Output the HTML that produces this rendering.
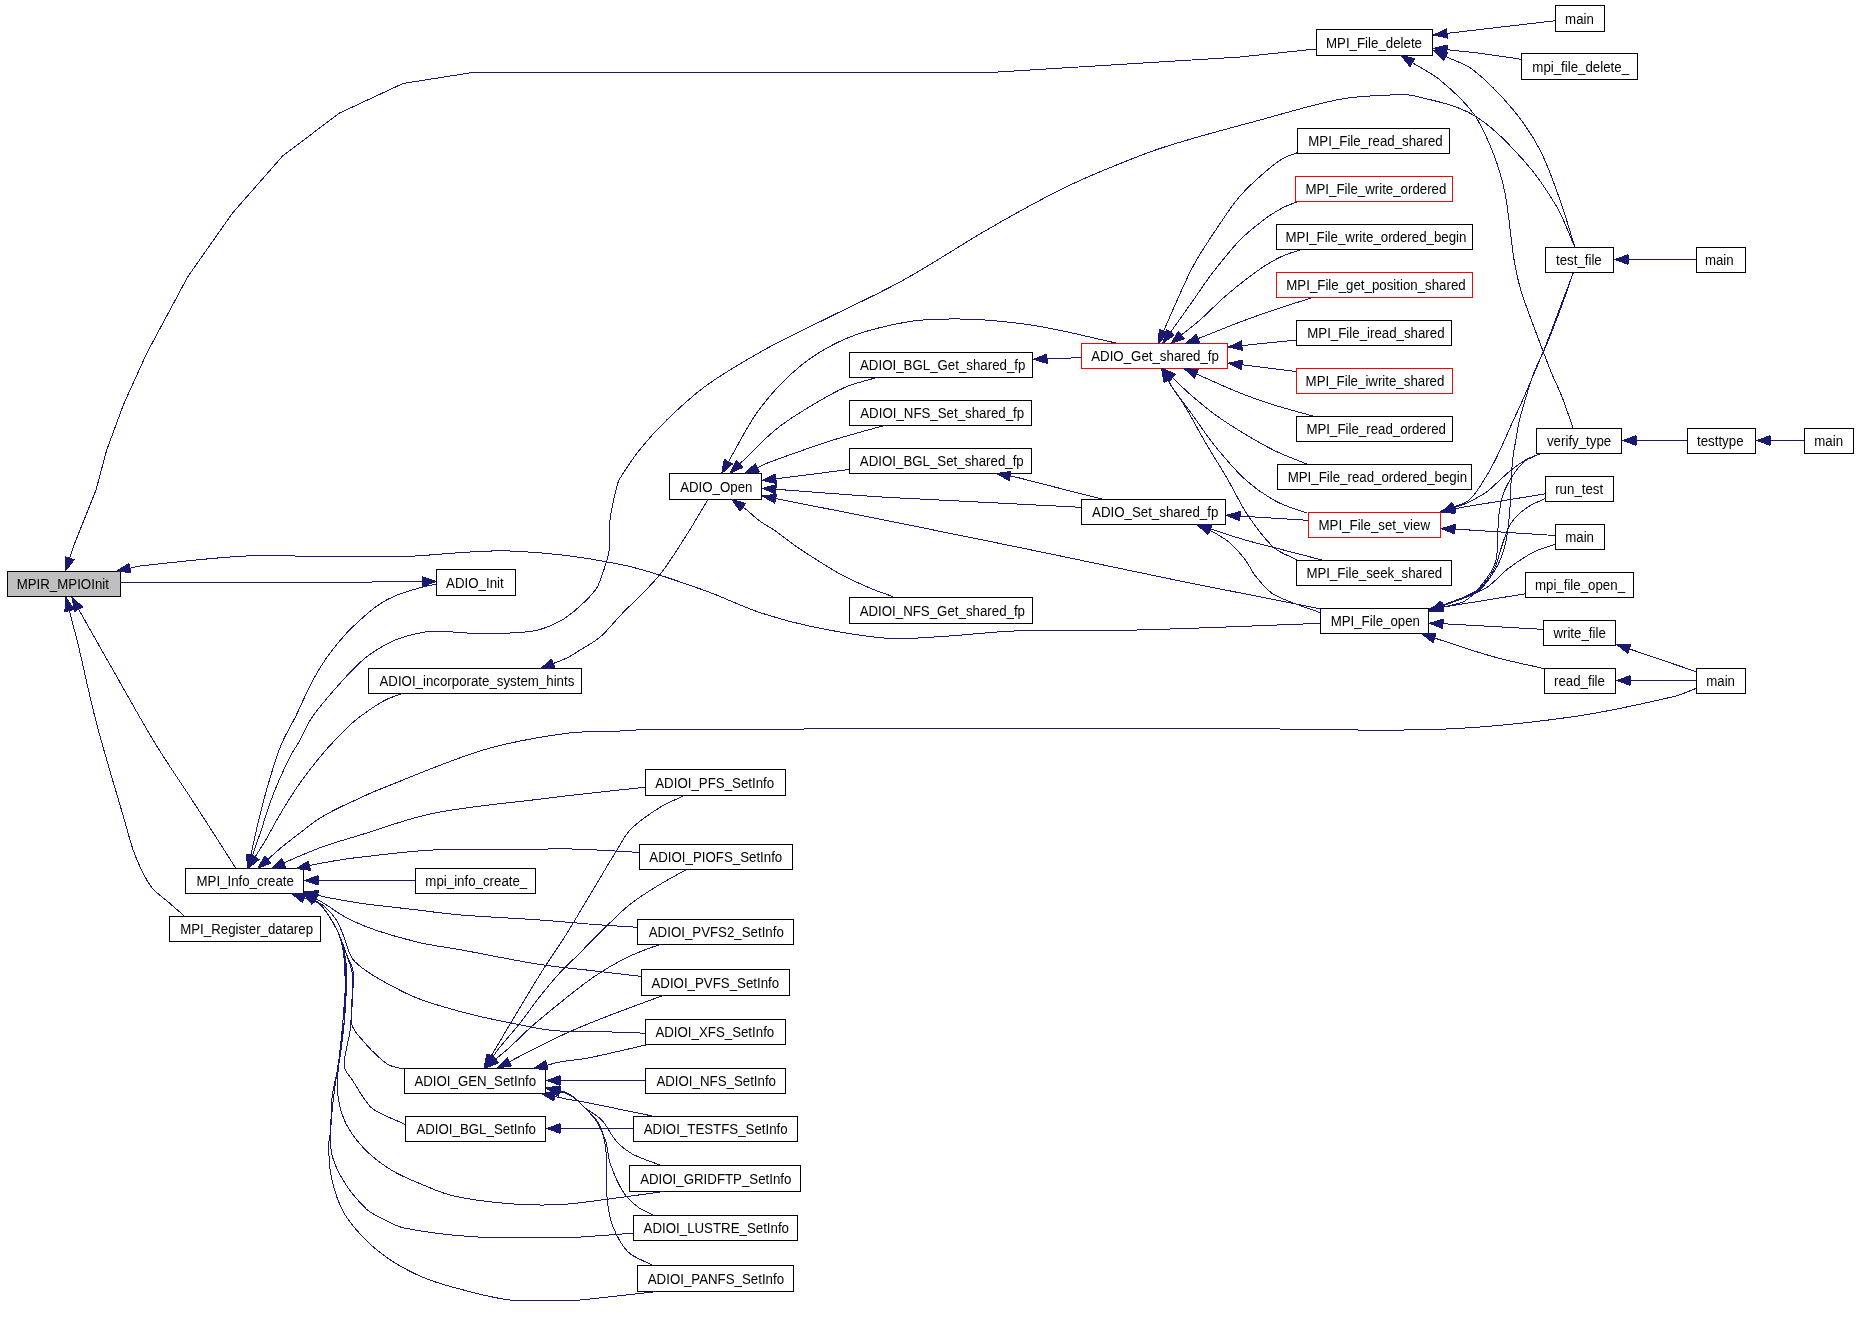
<!DOCTYPE html><html><head><meta charset="utf-8"><style>html,body{margin:0;padding:0;background:#fff;width:1859px;height:1320px;overflow:hidden}svg{display:block}text{font-family:"Liberation Sans",sans-serif;font-size:13.8px;fill:#000}</style></head><body>
<svg width="1859" height="1320" viewBox="0 0 1859 1320">
<rect x="7.5" y="571.5" width="113" height="25" fill="#bfbfbf" stroke="black" stroke-width="1" shape-rendering="crispEdges"/>
<rect x="1555.5" y="5.5" width="49" height="26" fill="white" stroke="black" stroke-width="1" shape-rendering="crispEdges"/>
<rect x="1316.5" y="29.5" width="116" height="26" fill="white" stroke="black" stroke-width="1" shape-rendering="crispEdges"/>
<rect x="1521.5" y="53.5" width="116" height="26" fill="white" stroke="black" stroke-width="1" shape-rendering="crispEdges"/>
<rect x="1297.5" y="128.5" width="152" height="25" fill="white" stroke="black" stroke-width="1" shape-rendering="crispEdges"/>
<rect x="1295.5" y="176.5" width="157" height="25" fill="white" stroke="red" stroke-width="1" shape-rendering="crispEdges"/>
<rect x="1276.5" y="224.5" width="196" height="25" fill="white" stroke="black" stroke-width="1" shape-rendering="crispEdges"/>
<rect x="1276.5" y="272.5" width="196" height="25" fill="white" stroke="red" stroke-width="1" shape-rendering="crispEdges"/>
<rect x="1296.5" y="320.5" width="155" height="25" fill="white" stroke="black" stroke-width="1" shape-rendering="crispEdges"/>
<rect x="1296.5" y="368.5" width="156" height="25" fill="white" stroke="red" stroke-width="1" shape-rendering="crispEdges"/>
<rect x="1296.5" y="416.5" width="156" height="25" fill="white" stroke="black" stroke-width="1" shape-rendering="crispEdges"/>
<rect x="1277.5" y="464.5" width="194" height="25" fill="white" stroke="black" stroke-width="1" shape-rendering="crispEdges"/>
<rect x="1308.5" y="512.5" width="132" height="25" fill="white" stroke="red" stroke-width="1" shape-rendering="crispEdges"/>
<rect x="1296.5" y="560.5" width="155" height="25" fill="white" stroke="black" stroke-width="1" shape-rendering="crispEdges"/>
<rect x="1320.5" y="608.5" width="108" height="25" fill="white" stroke="black" stroke-width="1" shape-rendering="crispEdges"/>
<rect x="1545.5" y="247.5" width="68" height="25" fill="white" stroke="black" stroke-width="1" shape-rendering="crispEdges"/>
<rect x="1696.5" y="247.5" width="49" height="25" fill="white" stroke="black" stroke-width="1" shape-rendering="crispEdges"/>
<rect x="1536.5" y="428.5" width="85" height="25" fill="white" stroke="black" stroke-width="1" shape-rendering="crispEdges"/>
<rect x="1687.5" y="428.5" width="68" height="25" fill="white" stroke="black" stroke-width="1" shape-rendering="crispEdges"/>
<rect x="1804.5" y="428.5" width="49" height="25" fill="white" stroke="black" stroke-width="1" shape-rendering="crispEdges"/>
<rect x="1545.5" y="476.5" width="68" height="25" fill="white" stroke="black" stroke-width="1" shape-rendering="crispEdges"/>
<rect x="1555.5" y="524.5" width="49" height="25" fill="white" stroke="black" stroke-width="1" shape-rendering="crispEdges"/>
<rect x="1525.5" y="572.5" width="108" height="25" fill="white" stroke="black" stroke-width="1" shape-rendering="crispEdges"/>
<rect x="1543.5" y="620.5" width="72" height="25" fill="white" stroke="black" stroke-width="1" shape-rendering="crispEdges"/>
<rect x="1544.5" y="668.5" width="71" height="25" fill="white" stroke="black" stroke-width="1" shape-rendering="crispEdges"/>
<rect x="1696.5" y="668.5" width="49" height="25" fill="white" stroke="black" stroke-width="1" shape-rendering="crispEdges"/>
<rect x="1081.5" y="343.5" width="146" height="25" fill="white" stroke="red" stroke-width="1" shape-rendering="crispEdges"/>
<rect x="849.5" y="352.5" width="183" height="25" fill="white" stroke="black" stroke-width="1" shape-rendering="crispEdges"/>
<rect x="849.5" y="400.5" width="182" height="25" fill="white" stroke="black" stroke-width="1" shape-rendering="crispEdges"/>
<rect x="849.5" y="448.5" width="182" height="25" fill="white" stroke="black" stroke-width="1" shape-rendering="crispEdges"/>
<rect x="1081.5" y="499.5" width="144" height="25" fill="white" stroke="black" stroke-width="1" shape-rendering="crispEdges"/>
<rect x="849.5" y="597.5" width="183" height="26" fill="white" stroke="black" stroke-width="1" shape-rendering="crispEdges"/>
<rect x="669.5" y="473.5" width="92" height="26" fill="white" stroke="black" stroke-width="1" shape-rendering="crispEdges"/>
<rect x="436.5" y="569.5" width="79" height="26" fill="white" stroke="black" stroke-width="1" shape-rendering="crispEdges"/>
<rect x="368.5" y="668.5" width="213" height="25" fill="white" stroke="black" stroke-width="1" shape-rendering="crispEdges"/>
<rect x="185.5" y="868.5" width="118" height="25" fill="white" stroke="black" stroke-width="1" shape-rendering="crispEdges"/>
<rect x="169.5" y="916.5" width="151" height="25" fill="white" stroke="black" stroke-width="1" shape-rendering="crispEdges"/>
<rect x="415.5" y="868.5" width="120" height="25" fill="white" stroke="black" stroke-width="1" shape-rendering="crispEdges"/>
<rect x="645.5" y="769.5" width="140" height="26" fill="white" stroke="black" stroke-width="1" shape-rendering="crispEdges"/>
<rect x="639.5" y="844.5" width="153" height="25" fill="white" stroke="black" stroke-width="1" shape-rendering="crispEdges"/>
<rect x="637.5" y="919.5" width="156" height="25" fill="white" stroke="black" stroke-width="1" shape-rendering="crispEdges"/>
<rect x="641.5" y="969.5" width="148" height="26" fill="white" stroke="black" stroke-width="1" shape-rendering="crispEdges"/>
<rect x="645.5" y="1019.5" width="140" height="25" fill="white" stroke="black" stroke-width="1" shape-rendering="crispEdges"/>
<rect x="404.5" y="1068.5" width="141" height="25" fill="white" stroke="black" stroke-width="1" shape-rendering="crispEdges"/>
<rect x="645.5" y="1068.5" width="140" height="25" fill="white" stroke="black" stroke-width="1" shape-rendering="crispEdges"/>
<rect x="405.5" y="1116.5" width="140" height="25" fill="white" stroke="black" stroke-width="1" shape-rendering="crispEdges"/>
<rect x="633.5" y="1116.5" width="164" height="25" fill="white" stroke="black" stroke-width="1" shape-rendering="crispEdges"/>
<rect x="629.5" y="1165.5" width="171" height="26" fill="white" stroke="black" stroke-width="1" shape-rendering="crispEdges"/>
<rect x="633.5" y="1215.5" width="164" height="25" fill="white" stroke="black" stroke-width="1" shape-rendering="crispEdges"/>
<rect x="637.5" y="1265.5" width="156" height="26" fill="white" stroke="black" stroke-width="1" shape-rendering="crispEdges"/>
<g style="filter:grayscale(1)">
<text x="62.8" y="589" text-anchor="middle" textLength="92.24" lengthAdjust="spacingAndGlyphs">MPIR_MPIOInit</text>
<text x="1579.5" y="24" text-anchor="middle" textLength="28.78" lengthAdjust="spacingAndGlyphs">main</text>
<text x="1374" y="48" text-anchor="middle" textLength="95.96" lengthAdjust="spacingAndGlyphs">MPI_File_delete</text>
<text x="1580.7" y="72" text-anchor="middle" textLength="96.72" lengthAdjust="spacingAndGlyphs">mpi_file_delete_</text>
<text x="1375.5" y="146" text-anchor="middle" textLength="134.35" lengthAdjust="spacingAndGlyphs">MPI_File_read_shared</text>
<text x="1375.9" y="194" text-anchor="middle" textLength="140.98" lengthAdjust="spacingAndGlyphs">MPI_File_write_ordered</text>
<text x="1376" y="242" text-anchor="middle" textLength="180.86" lengthAdjust="spacingAndGlyphs">MPI_File_write_ordered_begin</text>
<text x="1376" y="290" text-anchor="middle" textLength="179.39" lengthAdjust="spacingAndGlyphs">MPI_File_get_position_shared</text>
<text x="1375.9" y="338" text-anchor="middle" textLength="137.30" lengthAdjust="spacingAndGlyphs">MPI_File_iread_shared</text>
<text x="1375" y="386" text-anchor="middle" textLength="138.76" lengthAdjust="spacingAndGlyphs">MPI_File_iwrite_shared</text>
<text x="1376.2" y="434" text-anchor="middle" textLength="139.52" lengthAdjust="spacingAndGlyphs">MPI_File_read_ordered</text>
<text x="1377.4" y="482" text-anchor="middle" textLength="179.40" lengthAdjust="spacingAndGlyphs">MPI_File_read_ordered_begin</text>
<text x="1374.3" y="530" text-anchor="middle" textLength="111.45" lengthAdjust="spacingAndGlyphs">MPI_File_set_view</text>
<text x="1374.3" y="578" text-anchor="middle" textLength="135.82" lengthAdjust="spacingAndGlyphs">MPI_File_seek_shared</text>
<text x="1375.3" y="626" text-anchor="middle" textLength="89.32" lengthAdjust="spacingAndGlyphs">MPI_File_open</text>
<text x="1578.9" y="265" text-anchor="middle" textLength="45.77" lengthAdjust="spacingAndGlyphs">test_file</text>
<text x="1719.3" y="265" text-anchor="middle" textLength="28.78" lengthAdjust="spacingAndGlyphs">main</text>
<text x="1579.1" y="446" text-anchor="middle" textLength="64.22" lengthAdjust="spacingAndGlyphs">verify_type</text>
<text x="1720.3" y="446" text-anchor="middle" textLength="46.51" lengthAdjust="spacingAndGlyphs">testtype</text>
<text x="1828.7" y="446" text-anchor="middle" textLength="28.78" lengthAdjust="spacingAndGlyphs">main</text>
<text x="1579.2" y="494" text-anchor="middle" textLength="47.98" lengthAdjust="spacingAndGlyphs">run_test</text>
<text x="1579.6" y="542" text-anchor="middle" textLength="28.78" lengthAdjust="spacingAndGlyphs">main</text>
<text x="1580" y="590" text-anchor="middle" textLength="90.08" lengthAdjust="spacingAndGlyphs">mpi_file_open_</text>
<text x="1579.6" y="638" text-anchor="middle" textLength="52.40" lengthAdjust="spacingAndGlyphs">write_file</text>
<text x="1579.5" y="686" text-anchor="middle" textLength="50.94" lengthAdjust="spacingAndGlyphs">read_file</text>
<text x="1720.6" y="686" text-anchor="middle" textLength="28.78" lengthAdjust="spacingAndGlyphs">main</text>
<text x="1155.1" y="361" text-anchor="middle" textLength="127.71" lengthAdjust="spacingAndGlyphs">ADIO_Get_shared_fp</text>
<text x="942.7" y="370" text-anchor="middle" textLength="165.36" lengthAdjust="spacingAndGlyphs">ADIOI_BGL_Get_shared_fp</text>
<text x="942.2" y="418" text-anchor="middle" textLength="163.87" lengthAdjust="spacingAndGlyphs">ADIOI_NFS_Set_shared_fp</text>
<text x="941.8" y="466" text-anchor="middle" textLength="163.89" lengthAdjust="spacingAndGlyphs">ADIOI_BGL_Set_shared_fp</text>
<text x="1155.2" y="517" text-anchor="middle" textLength="126.24" lengthAdjust="spacingAndGlyphs">ADIO_Set_shared_fp</text>
<text x="942.3" y="616" text-anchor="middle" textLength="165.35" lengthAdjust="spacingAndGlyphs">ADIOI_NFS_Get_shared_fp</text>
<text x="716.3" y="492" text-anchor="middle" textLength="72.34" lengthAdjust="spacingAndGlyphs">ADIO_Open</text>
<text x="474.9" y="588" text-anchor="middle" textLength="57.57" lengthAdjust="spacingAndGlyphs">ADIO_Init</text>
<text x="476.9" y="686" text-anchor="middle" textLength="194.86" lengthAdjust="spacingAndGlyphs">ADIOI_incorporate_system_hints</text>
<text x="245.2" y="886" text-anchor="middle" textLength="97.44" lengthAdjust="spacingAndGlyphs">MPI_Info_create</text>
<text x="246.6" y="934" text-anchor="middle" textLength="132.87" lengthAdjust="spacingAndGlyphs">MPI_Register_datarep</text>
<text x="476.3" y="886" text-anchor="middle" textLength="101.88" lengthAdjust="spacingAndGlyphs">mpi_info_create_</text>
<text x="714.7" y="788" text-anchor="middle" textLength="118.84" lengthAdjust="spacingAndGlyphs">ADIOI_PFS_SetInfo</text>
<text x="715.8" y="862" text-anchor="middle" textLength="132.86" lengthAdjust="spacingAndGlyphs">ADIOI_PIOFS_SetInfo</text>
<text x="716.3" y="937" text-anchor="middle" textLength="135.08" lengthAdjust="spacingAndGlyphs">ADIOI_PVFS2_SetInfo</text>
<text x="715.3" y="988" text-anchor="middle" textLength="127.70" lengthAdjust="spacingAndGlyphs">ADIOI_PVFS_SetInfo</text>
<text x="714.8" y="1037" text-anchor="middle" textLength="118.84" lengthAdjust="spacingAndGlyphs">ADIOI_XFS_SetInfo</text>
<text x="475.3" y="1086" text-anchor="middle" textLength="121.79" lengthAdjust="spacingAndGlyphs">ADIOI_GEN_SetInfo</text>
<text x="716.2" y="1086" text-anchor="middle" textLength="119.57" lengthAdjust="spacingAndGlyphs">ADIOI_NFS_SetInfo</text>
<text x="476.2" y="1134" text-anchor="middle" textLength="119.59" lengthAdjust="spacingAndGlyphs">ADIOI_BGL_SetInfo</text>
<text x="715.7" y="1134" text-anchor="middle" textLength="143.92" lengthAdjust="spacingAndGlyphs">ADIOI_TESTFS_SetInfo</text>
<text x="715.8" y="1184" text-anchor="middle" textLength="151.29" lengthAdjust="spacingAndGlyphs">ADIOI_GRIDFTP_SetInfo</text>
<text x="716.3" y="1233" text-anchor="middle" textLength="145.41" lengthAdjust="spacingAndGlyphs">ADIOI_LUSTRE_SetInfo</text>
<text x="715.9" y="1284" text-anchor="middle" textLength="136.30" lengthAdjust="spacingAndGlyphs">ADIOI_PANFS_SetInfo</text>
</g>
<path d="M1316 49 L1240 57 L990 72.5 L472.7 72.5 L403 83.5 L339.4 113.1 L282.8 155.8 L232.3 213.3 L187.8 276.7 L146.7 353.3 L123.3 405 L106.7 450 L96 490 L74 545 L69.7 558.2 M1320.2 623.3 C1281 624.8 1241.9 626.5 1202.7 627.9 C1168.5 629.1 1134.2 630.3 1100 630.9 C1072 631.3 1044 629.9 1016 630.9 C991.6 631.8 967.3 635 942.9 636.4 C924.6 637.5 906.2 639.6 888 638.3 C863.5 636.6 839 632.1 814.9 627.3 C796.4 623.6 777.9 618.6 760 612.6 C740.7 606.2 722.5 596.6 703.3 590 C675.9 580.5 648.4 570 620 564.3 C583.9 557 546.8 552.3 510 551 C473.4 549.7 436.7 555.7 400 556.7 C370 557.5 339.9 556.3 309.8 556.2 C287.1 556.1 264.3 554.9 241.7 556.2 C207.7 558.2 173.8 562.4 140 566 C136.6 566.4 133.3 567.4 129.9 568.2 M235.7 868 C222 846.6 208.4 825.1 194.6 803.8 C181.8 784 168.2 764.7 155.9 744.6 C142.4 722.6 130.1 700 117.3 677.6 C104.3 654.9 91.5 632 78.6 609.3 M184.3 916 C179.5 911.8 174.7 907.7 170 903.5 C163.6 897.8 155.7 893.1 150.8 886.3 C144.1 877 139.3 865.8 135 855 C130.7 844.4 128.2 833 125 822 C115.5 789.4 105.4 756.9 96.7 724 C89.9 698.4 84.8 672.4 78.6 646.7 C75.7 634.6 72.4 622.6 69.3 610.6 M120.5 583 C153.7 582.9 186.8 582.8 220 582.7 C264.4 582.6 308.9 582.6 353.3 582.3 C368.9 582.2 384.4 581.7 400 581.5 C407.5 581.4 415 581.5 422.5 581.5 M436.2 584.2 C432.3 585 428.3 585.4 424.5 586.5 C414.9 589.2 405.1 591.8 395.8 595.6 C389.4 598.2 383.2 601.6 377.6 605.5 C370.6 610.4 364.3 616.3 357.9 622.1 C353.1 626.4 348.4 630.9 344.2 635.8 C337.8 643.1 331.6 650.5 326.1 658.5 C320.5 666.7 315.5 675.4 310.9 684.2 C305.4 694.6 301 705.6 295.8 716.1 C291.8 724.2 287.2 731.9 283.3 740 C281 744.8 279.1 749.8 277.4 754.8 C274.6 762.9 272.1 771.2 269.6 779.4 C267.2 787.6 264.9 795.8 262.7 804 C260.6 812.2 258.6 820.4 256.7 828.7 C254.6 837.6 252.8 846.4 250.8 855.3 M1575 247.5 C1568.9 233.9 1564.2 219.5 1556.7 206.7 C1547 190.3 1536.1 174.1 1523.3 160 C1508.3 143.5 1492.2 126.1 1473.3 115 C1455.6 104.6 1433.6 100.6 1413.3 95.7 C1405.8 93.9 1397.7 94.6 1390 95 C1373.3 95.8 1356.4 96.2 1340 99.3 C1313 104.5 1286.6 112.8 1260 120 C1227.8 128.8 1195.3 137 1163.6 147.3 C1142 154.3 1121 163.1 1100 171.8 C1084.2 178.4 1068.5 185.5 1053.3 193.3 C1030.8 204.9 1008.6 217.3 986.7 230 C958.7 246.2 931.9 264.4 903.6 280 C879.1 293.6 853.4 305.1 828.3 317.6 C808.6 327.5 788.4 336.5 769.1 347.2 C748 358.9 726.8 371 707.2 384.9 C692.8 395.2 679.7 407.5 666.9 419.8 C657.3 429 648.3 439 640 449.4 C632.7 458.5 626.2 468.4 620 478.3 C618.4 480.8 617.4 483.8 616.7 486.7 C614.1 497.7 611.3 508.8 610 520 C608.8 529.9 610.9 540.2 609.3 550 C607.6 560.6 603.6 570.8 600 581 C598.9 584.3 597.4 587.6 595.2 590.3 C590.5 596.2 585.1 601.7 579.4 606.7 C573.4 612 567.1 617.5 560 621.2 C551.7 625.6 542.6 629.5 533.3 631 C515.9 633.7 497.8 633.4 480 633.8 C474.1 633.9 468.3 633 462.4 632.7 C453.3 632.2 444.2 631 435.2 631.2 C429.1 631.3 422.9 632.1 417 633.5 C408.8 635.4 400.4 637.6 392.7 641.1 C384.2 645 376.1 650 368.5 655.5 C362.4 659.9 357 665.2 351.8 670.6 C342.9 679.8 334.4 689.6 326.1 699.4 C320.8 705.7 315.4 712.1 310.9 719.1 C306.7 725.7 303.9 733.1 300.1 740 C297.3 745 293.9 749.7 291.2 754.8 C287 762.8 283.1 771.1 279.4 779.4 C275.9 787.5 272.6 795.7 269.6 804 C266.7 812.1 264.4 820.5 261.7 828.7 C258.7 837.7 255.4 846.7 252.3 855.7 M708 499.3 C703.9 506.2 699.9 513.1 695.8 520 C693 524.7 690.3 529.4 687.3 533.9 C678.2 547.8 669.9 562.4 659.4 575.2 C647.7 589.5 633.5 601.8 620.6 615.2 C613.7 622.5 607.6 630.7 600 637.2 C593.9 642.4 586.4 646.1 579.5 650.4 C575.3 653.1 571.1 655.9 566.6 658.1 C562.3 660.2 557.7 661.7 553.2 663.5 M403.3 693.3 C397.8 695.3 392 696.9 386.7 699.4 C381.4 701.9 376.4 705.2 371.5 708.5 C365.2 712.8 359 717.2 353.3 722.1 C346.9 727.7 341 733.9 335.1 740 C330.5 744.8 326 749.7 321.8 754.8 C315.7 762.2 309.7 769.7 304 777.4 C298.8 784.4 294 791.8 289.3 799.1 C285.2 805.6 281.2 812.2 277.4 818.8 C273.7 825.3 270.4 832 266.6 838.5 C262.9 844.8 258.9 850.9 255 857 M1696.3 688.3 C1688.6 691.1 1681.2 694.9 1673.3 696.7 C1640.2 704.3 1606.9 712 1573.3 716.7 C1529.2 722.9 1484.6 727.7 1440 729.3 C1373.4 731.7 1306.5 728.7 1239.7 728.7 C1044.2 728.7 848.8 728.6 653.3 729.3 C642.2 729.3 631.1 730.5 620 731 C602.2 731.8 584.3 730.9 566.7 733.3 C538.7 737.2 510.3 741.8 483.3 750 C446 761.3 410.2 777.5 373.8 791.7 C369.1 793.5 364.6 796 360 798.1 C352.8 801.4 345.5 804.5 338.5 808 C331.8 811.4 325.1 814.7 318.8 818.8 C311.9 823.3 305.6 828.6 299.1 833.6 C293.2 838.1 287.2 842.6 281.4 847.4 C276.7 851.3 272.3 855.5 267.8 859.5 M645.1 787.3 C628.2 789.1 611.4 790.8 594.5 792.7 C576.3 794.7 558.1 796.8 540 799.1 C504.4 803.6 468.4 806.3 433.3 813.3 C408.4 818.3 384.4 827.7 360 835.1 C347.9 838.8 335.7 842.2 323.7 846.4 C315.4 849.3 307.3 852.9 299.1 856.3 C294 858.4 288.9 860.8 283.8 863 M639.1 852.4 C618.2 851.3 597.3 849.8 576.4 849.1 C564.3 848.7 552.1 849 540 849.1 C504.4 849.3 468.8 848.4 433.3 850 C408.8 851.1 384.4 854.6 360 857.2 C352.8 858 345.6 859.1 338.5 860.2 C332.3 861.2 326.1 862.2 320 863.4 C316.4 864.1 312.9 864.9 309.4 865.7 M415.1 880.4 C386.7 880.4 358.4 880.4 330 880.4 C326 880.4 322 880.4 318 880.4 M637.3 927.3 C623 926.4 608.8 925.6 594.5 924.5 C576.3 923.1 558.2 921.3 540 920 C513.3 918.1 486.6 917.1 460 914.9 C443.9 913.6 427.9 911.2 411.9 909.3 C394.7 907.3 377.4 905.6 360.2 903.2 C348.4 901.5 336.7 899.2 325 897 C322.5 896.5 320.1 895.7 317.6 895.1 M641.1 976.4 C625.6 974.6 610 972.7 594.5 970.9 C576.3 968.8 558.1 967.3 540 964.5 C513.2 960.3 486.7 954.5 460 949.7 C446.8 947.3 433.5 945.8 420.5 942.8 C406 939.5 391.6 935.5 377.5 930.8 C367.5 927.5 357.6 923.5 348.2 918.7 C340.1 914.6 332.8 908.8 325 904 C322.1 902.2 319.1 900.5 316.2 898.8 M645.2 1033.2 C626.3 1032.5 607.4 1031.7 588.5 1031.2 C579 1031 569.5 1031.5 560 1031 C553.3 1030.7 546.6 1029.9 540 1028.7 C517.2 1024.4 494.3 1020.1 471.8 1014.5 C453.4 1009.9 435 1004.9 417.3 998.2 C404.7 993.4 392.8 986.5 380.9 980 C374.3 976.4 367.9 972.3 362 967.8 C358.2 964.8 354 961.6 351.6 957.5 C347.8 950.8 346.4 942.7 343.4 935.4 C341.2 930 339.2 924.4 336.1 919.6 C333.1 915 329.1 910.7 325 907 C321.9 904.2 317.9 902.5 314.4 900.2 M404.2 1069.1 C399.5 1067.9 394.4 1067.4 390 1065.5 C386.5 1064 383.5 1061.4 380.6 1058.8 C375.3 1054.1 370 1049.1 365.5 1043.6 C360.4 1037.5 353.1 1031.4 351.8 1023.9 C349 1007.7 354.7 989.2 353.3 972.4 C352.7 965.5 348.3 959.3 345.8 952.7 C342.9 945.1 340.8 937.1 337 930 C332.1 920.9 326.9 911 319.8 904.1 C316 900.4 309.4 900.2 304.1 898.2 M405.2 1124.4 C396.8 1120.6 388.2 1117.3 380.1 1113.1 C376.4 1111.2 372.3 1109.3 369.7 1106.1 C363.1 1098.2 357.9 1088.8 352.3 1080 C349.4 1075.6 344.4 1071.4 344.2 1066.4 C343.7 1054.2 349.1 1041.2 350.3 1028.5 C351.9 1010.9 353.6 992.9 352.6 975.5 C352.1 967.7 348.4 960.2 345.8 952.7 C343.2 945 340.8 937.1 337 930 C332.1 920.9 326.9 911 319.8 904.1 C316 900.4 309.4 900.2 304.1 898.2 M663.6 1191.5 C646.6 1193.8 629.7 1196.4 612.7 1198.5 C595.2 1200.7 577.6 1203.7 560 1204.6 C543.1 1205.4 526 1205.1 509.1 1203.7 C490.4 1202.2 471.5 1199.9 453.3 1195.9 C442.5 1193.5 432.2 1188.7 422 1184.5 C411.9 1180.3 401.6 1176.2 392.3 1170.6 C383.6 1165.4 375.2 1159.3 367.9 1152.3 C360.7 1145.4 354 1137.3 348.8 1128.8 C344.6 1121.8 341.6 1113.7 339.7 1105.8 C337.8 1098 337.1 1089.6 337.4 1081.5 C338.1 1062.3 341.2 1043.1 342.7 1023.9 C344 1007.8 345.5 991.6 345.8 975.5 C346 967.9 345.6 960.1 344.2 952.7 C342.7 945 340.5 937 337 930 C332.4 920.8 326.9 911 319.8 904.1 C316 900.4 309.4 900.2 304.1 898.2 M633.3 1233.2 C614.3 1234.6 595.4 1236.1 576.4 1237.3 C570.9 1237.6 565.5 1237.7 560 1237.7 C531.4 1237.6 502.7 1238.6 474.2 1236.8 C450.9 1235.4 427.3 1232.5 404.5 1228.1 C397.1 1226.7 390.3 1222.8 383.6 1219.4 C377.6 1216.4 371 1213.5 366.2 1208.9 C357.7 1200.7 349.8 1191.1 343.6 1181 C338.2 1172.2 333.4 1162.3 331.4 1152.3 C329.3 1141.8 330.8 1130.3 331.4 1119.4 C332.1 1107.7 333.7 1096.1 335.2 1084.5 C338 1063.3 342.3 1042.2 344.2 1020.9 C345.6 1005.9 345.3 990.6 345 975.5 C344.9 967 344.5 958.4 343 950 C341.8 943.2 340.1 936.1 337 930 C332.4 920.8 326.9 911 319.8 904.1 C316 900.4 309.4 900.2 304.1 898.2 M656.4 1291.6 C629.7 1294.5 603.1 1297.9 576.4 1300.3 C571 1300.8 565.5 1300.4 560 1300.4 C543 1300.3 525.8 1302 509.1 1299.9 C490.3 1297.6 471.7 1292.2 453.3 1287.3 C442.7 1284.5 432.1 1281.2 422 1276.9 C411.7 1272.5 401.6 1267.3 392.3 1261.2 C383 1255.1 374 1248.1 366.2 1240.3 C357.8 1231.9 349.3 1222.7 343.6 1212.4 C337.7 1201.8 334.1 1189.5 331.4 1177.6 C329.1 1167.4 328.9 1156.7 328.7 1146.2 C328.6 1140.8 330.2 1135.4 330.6 1130 C331.4 1118.9 330.7 1107.7 332.1 1096.7 C333.7 1084 337.7 1071.5 339.7 1058.8 C342 1043.7 343.9 1028.5 345 1013.3 C346.1 998.2 346.8 983 346.5 967.9 C346.3 961.3 345.1 954.6 343.5 948.2 C341.9 942 340 935.6 337 930 C332.1 920.9 326.9 911 319.8 904.1 C316 900.4 309.4 900.2 304.1 898.2 M684.5 795.5 C676.3 799.4 667.6 802.5 660 807.3 C649.8 813.7 639.3 820.7 630.9 829.1 C624.8 835.2 621 843.5 616.4 850.9 C608.9 862.9 601.8 875.2 594.5 887.3 C585.4 902.4 576.6 917.7 567.3 932.7 C558.5 946.8 548.8 960.4 540 974.5 C529.9 990.6 520.3 1007.1 510.5 1023.4 C503.9 1034.4 497.4 1045.4 490.9 1056.4 M686.4 869.5 C677 874.8 667.4 879.8 658.2 885.5 C648.9 891.2 639.5 896.9 630.9 903.6 C623.1 909.6 616.2 916.7 609.1 923.6 C598 934.3 587.3 945.5 576.4 956.4 C570.9 961.9 565.2 967 560 972.7 C553 980.3 546.4 988.3 540 996.4 C532.9 1005.4 526.4 1015 519.3 1024 C513.1 1031.8 506.3 1039.2 500 1047 C497.4 1050.3 495 1053.8 492.5 1057.1 M660.9 944.5 C657 945.7 652.9 946.7 649.1 948.2 C640.5 951.6 631.8 954.9 623.6 959.1 C613.6 964.3 603.8 970.1 594.5 976.4 C583.8 983.7 573.7 991.9 563.6 1000 C552.7 1008.7 541.9 1017.5 531.4 1026.7 C524 1033.2 517.3 1040.4 510 1047 C505.4 1051.2 500.5 1055.1 495.7 1059.2 M663.6 995.3 C646.6 1001.6 629.6 1007.7 612.7 1014.2 C598.3 1019.8 584 1025.3 569.9 1031.6 C556.4 1037.6 543.2 1044.4 530 1051 C523.1 1054.4 516.3 1058.2 509.5 1061.7 M647.9 1044.5 C628.1 1049 608.4 1053.9 588.5 1057.9 C579.1 1059.8 569.4 1060.3 560 1062 C555.5 1062.8 551.1 1064.2 546.7 1065.3 M645.2 1080.5 C620.1 1080.5 595.1 1080.5 570 1080.5 C566.7 1080.5 563.3 1080.5 560 1080.5 M652.7 1116.1 C651.8 1115.9 650.8 1115.7 649.9 1115.5 C628.3 1111 606.7 1106.4 585 1102.1 C579 1100.9 572.8 1100.2 566.8 1099.1 C562.7 1098.3 558.7 1097.3 554.7 1096.4 M660 1165 C659.9 1165 659.9 1165 659.8 1165 C650.6 1161.4 640.9 1158.6 632.3 1154 C626.6 1150.9 621.2 1146.7 616.9 1141.9 C611 1135.3 607.5 1126.3 601.5 1119.9 C596.9 1115 590.2 1112.2 585 1107.9 C581.7 1105.2 579.2 1101.5 575.9 1098.8 C573.1 1096.5 570 1094.3 566.8 1092.7 C564.6 1091.6 562 1091.5 559.6 1090.8 M652.7 1215.5 C652.5 1215.1 652.5 1214.6 652.1 1214.4 C647.9 1212 642.8 1210.8 638.9 1207.8 C633.2 1203.4 627.4 1198.4 623.5 1192.4 C617.9 1183.7 613.7 1173.6 610.3 1163.8 C607.9 1156.8 608.1 1149 605.9 1141.9 C603.7 1135.1 600.8 1128.2 597.1 1122.1 C594.2 1117.3 589.9 1113.2 586 1109 C583 1105.7 579.9 1102.3 576.5 1099.5 C573.6 1097.1 570.4 1094.8 567 1093.2 C564.7 1092.1 562.1 1091.9 559.6 1091.3 M652.7 1265.4 C652.5 1265.3 652.3 1265.1 652.1 1265 C644 1260.6 634.2 1258.1 627.9 1251.8 C621 1244.9 616.1 1234.8 612.5 1225.4 C609.1 1216.5 607.9 1206.4 607 1196.8 C605.7 1181.5 607.5 1165.9 605.9 1150.7 C604.9 1141.7 603 1132.3 599.3 1124.3 C596.7 1118.7 591.3 1114.6 587 1110 C583.8 1106.6 580.6 1103.1 577 1100.2 C574 1097.7 570.7 1095.5 567.2 1093.8 C564.9 1092.7 562.1 1092.5 559.6 1091.8 M633.3 1128.5 C612.2 1128.5 591.1 1128.5 570 1128.5 C566.7 1128.5 563.3 1128.5 560 1128.5 M1116 343 C1091.8 337.7 1067.8 331.5 1043.5 327.1 C1025.7 323.9 1007.7 321.8 989.7 320.3 C976.3 319.1 962.8 318.8 949.4 319 C935.9 319.2 922.3 319.3 909 321.6 C890.9 324.7 872.5 328.8 855.2 335 C841.1 340 827.4 347.2 814.9 355.3 C803.2 362.9 792.5 372.3 782.6 382.2 C772.7 392.1 763.6 403 755.7 414.5 C745.5 429.4 737.5 445.9 728.5 461.6 M876.7 377.5 C865.9 380.9 854.6 382.9 844.4 387.6 C829.5 394.4 815.4 403.2 801.4 411.8 C792.1 417.5 782.8 423.6 774.5 430.6 C762.3 440.9 751.3 452.8 739.7 464 M885 425.3 C867.8 430.2 850.4 434.6 833.3 440 C812 446.8 791 454.3 770 462 C765.6 463.6 761.5 465.8 757.3 467.7 M849.3 469.5 L775.9 478.8 M1081 507.3 C1016.2 504 951.4 501.1 886.7 497.3 C849.8 495.1 812.9 492 776 489.3 M1320.2 608.9 C1293.7 603.6 1267.1 598.3 1240.6 593 C1220.4 589 1200.2 585.1 1180 581 C1137.7 572.3 1095.6 563.2 1053.3 554.5 C997.8 543 942.3 531.7 886.7 520.5 C849.7 513.1 812.7 505.9 775.7 498.6 M893.3 596.7 C885.4 593.8 877.4 591.3 869.7 588 C860.4 584.1 851.2 579.9 842.3 575.2 C832.9 570.2 823.9 564.4 814.9 558.7 C807.5 554 800.1 549.2 792.9 544.1 C786.7 539.7 780.8 534.7 774.6 530.4 C769.9 527.1 764.6 524.6 760 521.2 C755.3 517.8 751.2 513.6 746.7 510 C745.5 509 744.1 508.2 742.8 507.2 M1081 357.7 L1047 358.8 M1297.3 152.7 C1292.1 154.8 1286.5 156.1 1281.8 159.1 C1274 164 1266.9 170.2 1260 176.4 C1252.4 183.2 1244.7 190.3 1238.2 198.2 C1230.2 207.9 1223.4 218.6 1216.4 229.1 C1208.8 240.4 1201.1 251.7 1194.5 263.6 C1187.7 275.9 1182.3 289 1176.4 301.8 C1172 311.5 1167.9 321.4 1163.6 331.1 M1297.3 201.8 C1292.1 203.9 1286.7 205.6 1281.8 208.2 C1275.5 211.6 1269.3 215.6 1263.6 220 C1255.4 226.2 1247.1 232.6 1240 240 C1230.2 250.2 1221.4 261.5 1212.7 272.7 C1205 282.7 1198.2 293.3 1190.9 303.6 C1184.1 313.2 1177.3 322.7 1170.5 332.3 M1300 250 C1293.9 252.1 1287.6 253.6 1281.8 256.4 C1274.2 260 1266.9 264.3 1260 269.1 C1248.7 277 1237.8 285.6 1227.3 294.5 C1217.8 302.5 1209.3 311.8 1200 320 C1194 325.3 1187.6 330 1181.4 335 M1313 297.5 C1302.6 300.8 1292.1 303.9 1281.8 307.3 C1269.6 311.4 1257.5 315.5 1245.5 320 C1229.6 325.9 1213.9 332.4 1198.1 338.6 M1296.5 340 L1241.9 345.6 M1296.5 371.5 L1241.9 364.8 M1314.3 416.4 C1299.2 412.1 1284 408.3 1269.1 403.5 C1258.2 400 1247.4 395.9 1236.8 391.6 C1223.2 386.1 1209.8 379.8 1196.4 373.9 M1306.7 464 C1296.6 459.8 1286.2 456.2 1276.4 451.5 C1266 446.5 1256 440.7 1246.1 434.8 C1235.8 428.6 1225.5 422.2 1215.8 415.2 C1207.3 409.1 1199.4 402.3 1191.5 395.5 C1184.9 389.8 1178.8 383.6 1172.5 377.7 M1306.7 513 C1296.6 509.2 1285.8 506.6 1276.4 501.5 C1265.6 495.7 1255.2 488.5 1246.1 480.3 C1235 470.3 1225.3 458.6 1215.8 447 C1207.1 436.4 1199.6 424.7 1191.5 413.6 C1185 404.7 1178.3 396 1172 387 C1170.5 384.9 1169.4 382.5 1168.2 380.2 M1296.7 559.7 C1289.1 555.7 1280.2 553.3 1273.9 547.6 C1264 538.6 1255.8 527 1248.2 515.8 C1240.5 504.5 1234.9 491.8 1228 480 C1220.2 466.6 1211.8 453.4 1204 440 C1197.6 429 1191.8 417.6 1185.2 406.7 C1181.1 399.9 1176.3 393.6 1172 387 C1170.6 384.8 1169.4 382.5 1168.2 380.2 M1308 520.3 L1240 516.1 M1323.9 560.5 C1308.3 556.4 1292.6 552.4 1277 548.3 C1266.4 545.5 1255.7 543.1 1245.2 540 C1233.5 536.6 1221.9 532.6 1210.3 528.9 M1320.2 612.7 C1304.8 606.6 1288.1 602.5 1273.9 594.5 C1266.6 590.4 1261.2 582.9 1255.8 576.4 C1251.6 571.3 1249.2 564.9 1245.2 559.7 C1240.6 553.8 1235.6 547.9 1230 543 C1225.5 539 1220.1 536.1 1215 533 C1213.3 532 1211.4 531.3 1209.6 530.5 M1101.7 499 C1085.6 494.9 1069.4 490.8 1053.3 486.7 C1041.1 483.6 1028.9 480.3 1016.7 477.3 C1014.5 476.8 1012.2 476.4 1010 476 M1555.3 20.7 L1446.9 33.4 M1521.3 59.3 C1507.5 57.3 1493.8 55.1 1480 53.3 C1469 51.9 1457.9 50.9 1446.9 49.7 M1575 247.5 C1570 231.7 1565.6 215.6 1560 200 C1553.9 183.1 1548.2 165.8 1540 150 C1532.7 135.8 1523.5 122.3 1513.3 110 C1501.3 95.6 1487.9 81.6 1473.3 70 C1465.3 63.7 1454.8 61 1445.6 56.4 M1573.2 428.2 C1569.4 417.6 1565.9 406.9 1561.8 396.4 C1558.6 388.2 1554.5 380.3 1551.2 372.1 C1545.9 359.1 1541 345.9 1536.1 332.7 C1530.9 318.6 1525.2 304.6 1520.9 290.3 C1517.9 280.4 1515.8 270.2 1514.1 260 C1510.5 237.9 1509.3 215.3 1505 193.3 C1502.3 179.7 1498.4 166.2 1493.3 153.3 C1487.8 139.5 1482 125.2 1473.3 113.3 C1464.2 100.8 1452 90 1440 80 C1431.7 73.1 1421.6 68.5 1412.4 62.7 M1696.3 259.5 L1628 259.5 M1573.2 272.9 C1569.4 282.9 1565.6 293 1561.8 303 C1556 318.3 1550.4 333.8 1544.3 349 C1538.1 364.4 1531.5 379.7 1524.9 395 C1521.3 403.4 1517.3 411.7 1513.5 420 C1507.4 433.3 1501.9 446.9 1495.3 460 C1490.9 468.8 1486 477.3 1480.6 485.5 C1477.1 490.9 1473.4 496.7 1468.5 500.6 C1464.5 503.8 1458.7 504.9 1453.9 507 M1573.2 272.9 C1569.4 283.8 1565.8 294.7 1561.8 305.5 C1556.5 319.7 1551 333.9 1545.2 347.9 C1541.4 357.1 1536.3 365.8 1533 375.2 C1527.8 389.9 1523.5 404.9 1519.5 420 C1517.8 426.5 1517 433.3 1515.8 440 C1514.7 446.7 1513.3 453.3 1512.6 460 C1511.7 468.5 1511.4 477 1510.9 485.5 C1510.3 495.6 1510.4 505.8 1509.4 515.8 C1508.4 526 1507.3 536.3 1504.8 546.1 C1502.8 553.9 1499.9 561.9 1495.8 568.8 C1490.9 577 1485.3 586.2 1477.6 591.5 C1467.4 598.5 1453.9 601.1 1442 605.9 M1541.2 453.3 C1536.2 455.4 1530.8 457 1526.1 459.7 C1520.7 462.7 1515.7 466.5 1510.9 470.3 C1505.6 474.5 1500.9 479.4 1495.8 483.9 C1492.3 487 1489.1 490.5 1485.2 493 C1479 497 1472.2 500.4 1465.5 503.6 C1461.9 505.3 1457.9 506.4 1454.2 507.8 M1541.2 453.3 C1535.1 456.4 1527.7 458 1523 462.7 C1515.5 470.2 1509.3 480.2 1504.8 490 C1501.2 497.9 1499.9 507.1 1498.8 515.8 C1496.9 530.8 1499.1 546.8 1495.8 561.2 C1494 569 1488.5 576 1483.6 582.4 C1478.4 589.1 1472.6 596.3 1465.5 600.6 C1458.9 604.6 1450.1 605 1442.5 607.3 M1545.5 493.8 C1520.3 497.9 1495.1 501.8 1470 506 C1464.6 506.9 1459.2 508 1453.8 509 M1545.5 498.3 C1539 501.6 1531.9 504 1526.1 508.2 C1520.4 512.3 1514.7 517.4 1510.9 523.3 C1506.6 530 1504.6 538.4 1501.8 546.1 C1499.1 553.6 1498 561.9 1494.2 568.8 C1489.9 576.5 1484.7 585 1477.6 590 C1467.3 597.3 1453.8 600.4 1441.9 605.6 M1555.2 535.5 C1523.5 533.5 1491.7 531.4 1460 529.4 C1458.3 529.3 1456.7 529.3 1455 529.2 M1555.2 544.2 C1548 546.8 1540.4 548.6 1533.6 552.1 C1524.6 556.8 1516 562.7 1507.9 568.8 C1499.9 574.8 1493.8 583.6 1485.2 588.5 C1471.8 596.1 1456.4 600.4 1442 606.3 M1525.3 593.8 C1500.2 597.9 1475.1 602 1450 606 C1447.6 606.4 1445.2 606.7 1442.9 607 M1543.5 629.4 C1512.3 627.6 1481.2 625.8 1450 624.1 C1447.7 624 1445.3 623.9 1443 623.8 M1544.3 668.7 C1527.3 664.7 1510.1 661.4 1493.3 656.7 C1473.5 651.2 1454.1 644.3 1434.6 638.1 M1696.3 671.7 C1683.1 667.2 1669.9 662.8 1656.7 658.3 C1647.5 655.2 1638.4 652 1629.3 648.9 M1696.3 680.5 L1630 680.5 M1687 440.5 C1671.3 440.5 1655.7 440.5 1640 440.5 C1638.7 440.5 1637.3 440.5 1636 440.5 M1804 440.5 L1770 440.5" fill="none" stroke="#191970" stroke-width="1" shape-rendering="crispEdges"/>
<path d="M65.5 571 L74.2 559.6 L65.2 556.7Z M116.7 571 L130.9 572.8 L128.9 563.6Z M72 597.5 L74.6 611.6 L82.7 606.9Z M66 597.5 L64.8 611.7 L73.9 609.4Z M436 581.5 L422.5 576.8 L422.5 586.2Z M247.9 868.5 L255.4 856.3 L246.2 854.3Z M247.9 868.5 L256.8 857.3 L247.9 854.2Z M540.7 668.5 L555 667.8 L551.5 659.1Z M247.9 868.5 L259 859.5 L251.1 854.6Z M257.7 868.5 L270.9 863 L264.7 856Z M271.5 868.5 L285.7 867.3 L281.9 858.7Z M296.2 868.5 L310.4 870.3 L308.4 861.1Z M304.5 880.5 L318 885.1 L318 875.7Z M304.5 891.8 L316.4 899.7 L318.7 890.6Z M304.5 892 L313.8 902.9 L318.5 894.8Z M303 893 L311.9 904.2 L316.9 896.3Z M291.5 893.5 L302.5 902.6 L305.8 893.8Z M291.5 893.5 L302.5 902.6 L305.8 893.8Z M291.5 893.5 L302.5 902.6 L305.8 893.8Z M291.5 893.5 L302.5 902.6 L305.8 893.8Z M291.5 893.5 L302.5 902.6 L305.8 893.8Z M484 1068 L494.9 1058.8 L486.9 1054Z M484.5 1068 L496.3 1059.9 L488.7 1054.3Z M485.5 1068 L498.8 1062.8 L492.7 1055.6Z M497.5 1068 L511.6 1065.9 L507.3 1057.6Z M533.6 1068.5 L547.8 1069.8 L545.6 1060.7Z M546.5 1080.5 L560 1085.2 L560 1075.8Z M541.5 1093.5 L553.7 1101 L555.7 1091.8Z M546.5 1087.5 L558.4 1095.4 L560.7 1086.3Z M546.5 1088 L558.4 1095.9 L560.7 1086.8Z M546.5 1088.5 L558.4 1096.4 L560.7 1087.3Z M546.5 1128.5 L560 1133.2 L560 1123.8Z M721.7 473.3 L732.5 464 L724.4 459.3Z M730 473.3 L743 467.3 L736.5 460.6Z M745 473.3 L759.2 472 L755.4 463.5Z M762.5 480.5 L776.5 483.5 L775.3 474.1Z M762.5 488.3 L775.6 494 L776.3 484.6Z M762.5 496 L774.8 503.2 L776.7 494Z M731.7 499.5 L740.1 511.1 L745.5 503.4Z M1033.5 359.3 L1047.2 363.5 L1046.8 354.1Z M1158.2 343.5 L1167.9 333 L1159.3 329.2Z M1162.7 343.3 L1174.3 335 L1166.7 329.6Z M1170.9 343.5 L1184.4 338.7 L1178.4 331.4Z M1185.5 343.5 L1199.8 343 L1196.4 334.2Z M1228.5 347 L1242.4 350.3 L1241.4 340.9Z M1228.5 363.1 L1241.3 369.4 L1242.5 360.1Z M1184 368.5 L1194.5 378.2 L1198.3 369.6Z M1162.6 368.5 L1169.3 381.2 L1175.7 374.3Z M1161.5 368.5 L1164.1 382.6 L1172.3 377.9Z M1161.5 368.5 L1164.1 382.6 L1172.3 377.9Z M1226.5 515.3 L1239.7 520.8 L1240.3 511.4Z M1197.4 524.8 L1208.8 533.4 L1211.7 524.4Z M1197.4 524.8 L1207.7 534.8 L1211.6 526.2Z M996.7 473.5 L1009.1 480.6 L1010.8 471.4Z M1433.5 35 L1447.5 38.1 L1446.4 28.8Z M1433.5 48.3 L1446.4 54.4 L1447.4 45.1Z M1433.5 50.5 L1443.6 60.7 L1447.7 52.2Z M1401 55.5 L1409.9 66.7 L1414.9 58.7Z M1614.5 259.5 L1628 264.2 L1628 254.8Z M1441.5 512.4 L1455.8 511.3 L1452 502.7Z M1429.5 611 L1443.8 610.3 L1440.2 601.6Z M1441.5 512.4 L1455.8 512.2 L1452.6 503.3Z M1429.5 611 L1443.8 611.8 L1441.2 602.7Z M1440.5 511.5 L1454.6 513.6 L1452.9 504.4Z M1429.5 611 L1443.8 609.9 L1440 601.3Z M1441.5 528.6 L1454.8 533.9 L1455.2 524.5Z M1429.5 611.5 L1443.8 610.7 L1440.2 602Z M1429.5 609 L1443.5 611.7 L1442.2 602.4Z M1429.5 623.3 L1442.8 628.5 L1443.2 619.1Z M1421.7 634 L1433.1 642.6 L1436 633.6Z M1616.5 644.5 L1627.7 653.3 L1630.8 644.4Z M1616.5 680.5 L1630 685.2 L1630 675.8Z M1622.5 440.5 L1636 445.2 L1636 435.8Z M1756.5 440.5 L1770 445.2 L1770 435.8Z" fill="#191970" stroke="#191970" stroke-width="1" stroke-linejoin="round" shape-rendering="crispEdges"/>
</svg></body></html>
